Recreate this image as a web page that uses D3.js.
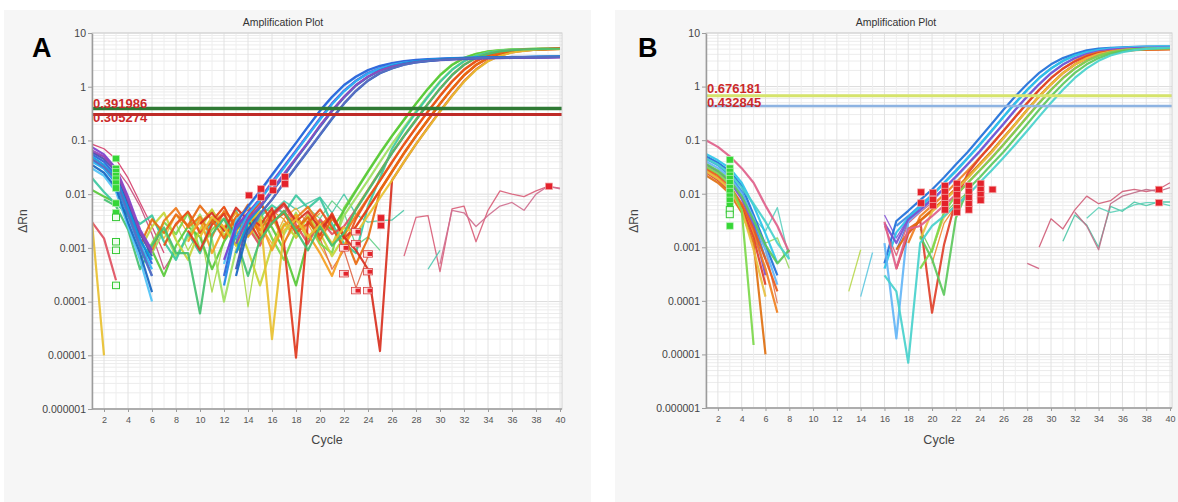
<!DOCTYPE html>
<html><head><meta charset="utf-8">
<script src="https://cdn.jsdelivr.net/npm/d3@7"></script>
<style>
  body { margin: 0; background: #ffffff; }
  svg { display: block; }
  text { font-family: "Liberation Sans", Arial, sans-serif; }
</style></head>
<body>
<svg id="chart" width="1178" height="502"></svg>
<script>
const _ = null;
// a curve that only starts at a later cycle
const at = (start, vals) => Array(start - 1).fill(null).concat(vals);

// ---------- shared axis content ----------
const yTickValues = [1e-6, 1e-5, 1e-4, 1e-3, 1e-2, 0.1, 1, 10];
const yTickLabels = ["0.000001", "0.00001", "0.0001", "0.001", "0.01", "0.1", "1", "10"];
const xTickValues = [2,4,6,8,10,12,14,16,18,20,22,24,26,28,30,32,34,36,38,40];
const cycleDomain = [1, 40];

// ---------- panel A : ΔRn per cycle ----------
// early-amplifying wells (Ct ≈ 20–21.5)
const earlyA = [
  [0.03,0.022,0.011,0.0025,0.0006,0.0001,_,_,_,_,
   _,0.0005,0.0032,0.0056,0.011,0.022,0.045,0.089,0.18,0.35,
   0.63,1.05,1.51,2.0,2.4,2.69,2.95,3.1,3.2,3.3,
   3.37,3.43,3.47,3.5,3.53,3.55,3.57,3.58,3.6,3.6],
  [0.055,0.04,0.022,0.006,0.0015,0.0005,_,_,_,_,
   _,0.0003,0.0028,0.006,0.0115,0.023,0.046,0.09,0.18,0.36,
   0.65,1.08,1.55,2.05,2.45,2.75,3.0,3.15,3.25,3.33,
   3.4,3.45,3.5,3.53,3.56,3.58,3.6,3.62,3.63,3.64],
  [0.045,0.03,0.016,0.004,0.001,0.0003,_,_,_,_,
   _,0.0002,0.0022,0.0043,0.0079,0.016,0.032,0.063,0.126,0.25,
   0.48,0.83,1.29,1.78,2.19,2.57,2.82,3.0,3.15,3.25,
   3.33,3.4,3.45,3.48,3.51,3.54,3.56,3.57,3.59,3.6],
  [0.075,0.055,0.03,0.009,0.0022,0.0009,_,_,_,_,
   _,0.0006,0.0025,0.0045,0.0082,0.017,0.033,0.065,0.13,0.26,
   0.49,0.85,1.3,1.8,2.2,2.55,2.8,2.97,3.1,3.2,
   3.28,3.35,3.4,3.43,3.46,3.49,3.5,3.52,3.53,3.55],
  [0.04,0.03,0.018,0.005,0.0012,0.0004,_,_,_,_,
   _,_,0.0015,0.0042,0.0077,0.0155,0.031,0.062,0.124,0.245,
   0.47,0.82,1.27,1.76,2.17,2.55,2.8,2.98,3.13,3.23,
   3.31,3.38,3.43,3.47,3.5,3.52,3.54,3.56,3.58,3.59],
  [0.06,0.045,0.026,0.007,0.0019,0.0007,_,_,_,_,
   _,_,0.0004,0.0032,0.0056,0.011,0.022,0.045,0.089,0.18,
   0.35,0.63,1.05,1.51,2.0,2.4,2.69,2.95,3.1,3.2,
   3.3,3.37,3.43,3.47,3.5,3.53,3.55,3.57,3.58,3.6],
  [0.05,0.035,0.02,0.0055,0.0014,0.0006,_,_,_,_,
   _,_,0.0008,0.003,0.0058,0.0115,0.023,0.046,0.09,0.185,
   0.36,0.64,1.07,1.53,2.02,2.42,2.72,2.97,3.12,3.22,
   3.32,3.39,3.45,3.49,3.52,3.55,3.57,3.59,3.6,3.62],
  [0.065,0.05,0.028,0.008,0.002,0.0008,_,_,_,_,
   _,_,0.0012,0.0035,0.006,0.012,0.024,0.047,0.092,0.19,
   0.36,0.65,1.08,1.55,2.0,2.38,2.65,2.88,3.02,3.12,
   3.2,3.27,3.32,3.36,3.4,3.43,3.45,3.47,3.49,3.5],
  [0.035,0.025,0.013,0.003,0.0008,0.00015,_,_,_,_,
   _,_,0.0003,0.0022,0.0043,0.0079,0.016,0.032,0.063,0.126,
   0.25,0.48,0.83,1.29,1.78,2.19,2.57,2.82,3.0,3.15,
   3.25,3.33,3.4,3.45,3.48,3.51,3.54,3.56,3.57,3.59],
  [0.045,0.032,0.019,0.0045,0.0011,0.0003,_,_,_,_,
   _,_,_,0.0018,0.0042,0.008,0.0165,0.033,0.065,0.13,
   0.26,0.49,0.85,1.31,1.8,2.2,2.58,2.84,3.02,3.17,
   3.27,3.35,3.42,3.46,3.5,3.53,3.55,3.57,3.58,3.6]
];
const earlyAColors = ["#4fc3f7","#2b5fd9","#1e88e5","#7b3fd0","#29b6f6","#3f51b5","#0b9be0","#9446b8","#1565c0","#5c6bc0"];

// late-amplifying wells (Ct ≈ 27.5–30)
const lateA = [
  [_,_,_,_,0.0006,0.0012,0.003,0.0018,0.0045,0.0009,
   0.0022,0.0035,0.0011,0.0026,0.0048,0.0015,0.0006,0.0021,0.0038,0.0012,
   0.0008,0.0055,0.012,0.027,0.059,0.123,0.245,0.49,0.93,1.66,
   2.57,3.47,4.1,4.57,4.79,4.95,5.02,5.07,5.1,5.13],
  [0.012,0.009,0.007,0.004,0.0018,0.0009,0.0003,0.0011,0.0025,0.0016,
   0.0004,0.0013,0.0029,0.0019,0.0033,0.0024,0.0009,0.0002,0.0014,0.0031,
   0.0022,0.005,0.0115,0.026,0.057,0.12,0.24,0.48,0.91,1.62,
   2.52,3.42,4.05,4.52,4.76,4.92,5.0,5.05,5.08,5.1],
  [_,_,_,_,_,0.0008,0.0021,0.0007,0.0016,0.0042,
   0.0014,0.0001,0.0009,0.0027,0.0012,0.0035,0.0018,0.0045,0.0013,0.0026,
   0.0011,0.004,0.0085,0.018,0.04,0.085,0.174,0.35,0.68,1.26,
   2.09,3.02,3.8,4.37,4.68,4.9,5.0,5.05,5.1,5.12],
  [0.02,0.011,0.0065,0.0045,0.0028,0.004,0.0013,0.0006,0.0019,0.0008,
   0.0034,0.0021,0.0049,0.0017,0.0038,0.0062,0.0044,0.0095,0.0055,0.0085,
   0.0028,0.0012,0.0008,0.006,0.02,0.07,0.16,0.33,0.65,1.22,
   2.05,2.98,3.76,4.33,4.65,4.87,4.98,5.03,5.08,5.1],
  [_,_,_,_,0.0009,0.0025,0.0045,0.0014,0.0006,0.0022,
   0.0052,0.0017,0.0032,0.0009,0.0002,0.0011,0.0028,0.0016,0.004,0.0019,
   0.0007,0.0016,0.0055,0.012,0.027,0.059,0.123,0.245,0.49,0.93,
   1.66,2.57,3.47,4.1,4.57,4.79,4.95,5.02,5.07,5.1],
  [0.003,0.0015,0.00025,_,_,_,_,_,_,_,
   _,_,0.0008,0.0024,0.0011,0.0039,0.0062,0.0027,0.0012,0.0034,
   0.0018,0.0025,0.0052,0.0118,0.026,0.058,0.12,0.24,0.48,0.92,
   1.64,2.55,3.44,4.07,4.53,4.76,4.93,5.0,5.05,5.08],
  [_,_,_,_,_,0.0009,0.0032,0.0055,0.0024,0.0038,
   0.0016,0.0048,0.0029,0.0064,0.0021,0.0045,0.0012,0.0036,0.0058,0.0026,
   0.0041,0.0017,0.004,0.0085,0.018,0.04,0.085,0.174,0.35,0.68,
   1.26,2.09,3.02,3.8,4.37,4.68,4.9,5.0,5.05,5.1],
  [_,_,_,_,_,_,0.0011,0.0028,0.0047,0.0019,
   0.0031,0.0058,0.0022,0.0037,0.0072,0.0031,0.0044,0.0019,0.0029,0.0052,
   0.0024,0.001,0.0035,0.0083,0.0178,0.039,0.084,0.172,0.345,0.67,
   1.24,2.06,2.98,3.77,4.34,4.66,4.88,4.98,5.04,5.08],
  [_,_,_,_,_,_,_,_,0.0013,0.0035,
   0.0008,0.0024,0.0046,0.0016,0.0032,0.0009,0.0026,0.0041,0.0018,0.0008,
   0.0003,0.0011,0.0025,0.0055,0.012,0.027,0.059,0.123,0.245,0.49,
   0.93,1.66,2.57,3.47,4.1,4.57,4.79,4.95,5.02,5.07],
  [_,_,_,_,_,_,_,_,0.0021,0.0009,
   0.0027,0.0043,0.0015,0.0039,0.0026,0.0055,0.0012,0.000009,0.0031,0.0017,
   0.0044,0.0015,0.0025,0.0054,0.0118,0.026,0.058,0.12,0.24,0.48,
   0.91,1.63,2.53,3.43,4.06,4.54,4.77,4.93,5.0,5.05],
  [_,_,_,_,0.0011,0.0034,0.0019,0.0042,0.0026,0.0061,
   0.0033,0.0015,0.0038,0.0052,0.0017,0.0028,0.0049,0.0023,0.0037,0.0014,
   0.0035,0.0018,0.0005,0.0015,0.0115,0.026,0.057,0.12,0.24,0.48,
   0.91,1.62,2.52,3.42,4.05,4.52,4.76,4.92,5.0,5.05],
  [_,_,_,_,_,_,_,_,_,0.0028,
   0.0045,0.0021,0.0056,0.0033,0.0014,0.0042,0.0068,0.0031,0.0048,0.0022,
   0.0039,0.0016,0.0009,0.0004,0.000012,0.018,0.04,0.085,0.174,0.35,
   0.68,1.26,2.09,3.02,3.8,4.37,4.68,4.9,5.0,5.05],
  [0.003,0.00001,_,_,_,_,_,_,_,0.0016,
   0.0038,0.0024,0.0011,0.003,0.0047,0.00002,0.0021,0.0034,0.0016,0.0027,
   0.0012,0.0024,0.0018,0.004,0.0085,0.018,0.04,0.085,0.172,0.345,
   0.67,1.24,2.06,2.98,3.77,4.34,4.66,4.88,4.98,5.03],
  [_,0.008,0.006,0.0022,0.0004,0.0011,0.0024,0.0008,0.0008,0.00006,
   0.0018,0.0035,0.0015,0.0003,0.0014,0.0029,0.0048,0.0021,0.0009,0.0025,
   0.0011,0.0019,0.0052,0.0115,0.026,0.058,0.12,0.24,0.48,0.92,
   1.64,2.55,3.45,4.08,4.55,4.78,4.94,5.01,5.06,5.09]
];
const lateAColors = ["#7ad84a","#58c93a","#9ee060","#3cc8a0","#c5d63a","#e05060","#f07a1a",
                     "#e8501a","#f5a020","#e03a1e","#e86a10","#d83020","#e8c030","#44c070"];

// wells without amplification (noise only)
const flatA = [
  at(12, [0.002,0.0035,0.0022,0.006,0.0045,0.0075,0.0052,0.0068,0.0088,0.0045,0.01,0.0042,0.003,0.0032,0.0033,0.005]),
  at(7,  [0.0012,0.0028,0.0009,0.0022,0.00015,0.0014,0.0031,0.00008,0.0019,0.0036,0.0013,0.0026]),
  at(6,  [0.0035,0.0015,0.0041,0.0019,0.0008,0.0029,0.0047,0.0018,0.0062,0.0027,0.0012,0.0035,0.0055,0.0028,0.0011,0.00045]),
  at(17, [0.0032,0.0021,0.0045,0.0015,0.0004,0.0009,0.00018,0.0007]),
  at(19, [0.0055,0.0035,0.0075,0.0045,0.0011,0.0016,0.0009]),
  [0.085,0.07,0.045,0.02,0.007,0.0025,0.0008],
  [0.06,0.05,0.03,0.015,0.006,0.0018,0.0004,0.0009],
  at(27, [0.0007,0.0037,0.004,0.00036,0.0053,0.006,0.0013,0.005,0.0115,0.01,0.009,0.0115,0.014,0.013]),
  at(30, [0.0005,0.005,0.0045,0.0025,0.004,0.006,0.007,0.005,0.01,0.014,0.0125]),
  at(29, [0.0004,0.0009]),
  at(8,  [0.0026,0.0048,0.0021,0.0033,0.0058,0.0025,0.0041,0.0066,0.0029,0.0047,0.0019,0.0038,0.0027]),
  at(9,  [0.0017,0.0029,0.0052,0.0024,0.0016,0.0037,0.0021,0.0049,0.0034,0.0015,0.0028,0.0044])
];
const flatAColors = ["#4cc8a8","#a8d84a","#f0b030","#e06a4a","#66d08a","#d6406e","#c85080","#d9607a",
                     "#cf6f8f","#50c8b0","#ec7a22","#e2a028"];

const thresholdsA = [0.391986, 0.305274];
const thresholdLabelsA = ["0.391986", "0.305274"];

// baseline / Ct markers: [cycle, ΔRn]
const redMarksA = [[14,0.0095],[15,0.0125],[15,0.0088],[16,0.0165],[16,0.0118],[17,0.021],[17,0.0155],
                   [25,0.0036],[25,0.0026],[39,0.014]];
const openRedMarksA = [[22,0.001],[23,0.002],[23,0.0012],[24,0.00077],[22,0.00033],[24,0.00036],[23,0.00016],[24,0.00016]];
const greenMarksA = [[3,0.046],[3,0.03],[3,0.026],[3,0.022],[3,0.019],[3,0.016],[3,0.013],[3,0.0068],[3,0.0045]];
const openGreenMarksA = [[3,0.0037],[3,0.0013],[3,0.0009],[3,0.0002]];

// ---------- panel B : ΔRn per cycle ----------
const ampB = [
  [0.05,0.038,0.026,0.014,0.004,0.0011,0.0003,_,_,_,
   _,_,_,_,_,0.0005,0.0031,0.0048,0.0076,0.012,
   0.02,0.035,0.06,0.11,0.2,0.37,0.66,1.12,1.8,2.6,
   3.4,4.1,4.75,5.1,5.3,5.42,5.5,5.55,5.58,5.6],
  [0.045,0.034,0.022,0.011,0.003,0.0006,_,_,_,_,
   _,_,_,_,_,_,0.0025,0.0038,0.006,0.0095,
   0.016,0.027,0.047,0.083,0.15,0.275,0.5,0.87,1.45,2.19,
   3.02,3.8,4.37,4.79,5.05,5.2,5.33,5.42,5.48,5.52],
  [0.055,0.042,0.03,0.016,0.006,0.0018,0.0005,_,_,_,
   _,_,_,_,_,0.0004,0.0019,0.0035,0.0058,0.0092,
   0.0155,0.026,0.046,0.081,0.147,0.27,0.49,0.86,1.43,2.17,
   3.0,3.8,4.4,4.85,5.15,5.35,5.48,5.56,5.62,5.65],
  [0.04,0.03,0.02,0.01,0.0035,0.0009,0.0002,_,_,_,
   _,_,_,_,_,0.0012,0.00002,0.0031,0.0048,0.0076,
   0.012,0.02,0.035,0.06,0.11,0.2,0.37,0.66,1.12,1.8,
   2.6,3.4,4.1,4.6,4.95,5.18,5.32,5.42,5.48,5.52],
  [0.035,0.026,0.017,0.008,0.0025,0.0003,_,_,_,_,
   _,_,_,_,_,0.0028,0.0012,0.0033,0.005,0.0078,
   0.0125,0.021,0.036,0.062,0.112,0.2,0.37,0.65,1.1,1.77,
   2.57,3.37,4.05,4.55,4.88,5.08,5.2,5.28,5.33,5.36],
  [0.028,0.02,0.012,0.006,0.0018,0.0004,0.00006,_,_,_,
   _,_,_,_,_,_,_,0.0012,0.0038,0.006,
   0.0095,0.016,0.027,0.047,0.083,0.15,0.275,0.5,0.87,1.45,
   2.19,3.02,3.8,4.37,4.6,4.85,4.95,5.0,5.02,5.05],
  [0.025,0.018,0.011,0.0055,0.0015,0.0002,_,_,_,_,
   _,_,_,_,_,_,0.0004,0.0018,0.0032,0.00006,
   0.0011,0.0075,0.024,0.046,0.082,0.148,0.27,0.49,0.86,1.43,
   2.15,2.95,3.7,4.2,4.55,4.75,4.85,4.92,4.96,5.0],
  [0.03,0.022,0.014,0.0065,0.0022,0.0006,0.00015,_,_,_,
   _,_,_,_,_,_,_,0.0022,0.0031,0.0048,
   0.0076,0.012,0.02,0.035,0.06,0.11,0.2,0.37,0.66,1.12,
   1.8,2.6,3.4,4.05,4.45,4.7,4.85,4.93,4.98,5.02],
  [0.022,0.016,0.01,0.0045,0.0012,0.00001,_,_,_,_,
   _,_,_,_,_,_,0.0009,0.0019,0.0032,0.005,
   0.0078,0.0125,0.021,0.036,0.062,0.112,0.2,0.37,0.65,1.1,
   1.77,2.57,3.35,4.0,4.4,4.65,4.8,4.88,4.93,4.97],
  [0.026,0.019,0.012,0.005,0.0009,0.00012,_,_,_,_,
   _,_,_,_,_,_,_,_,0.0014,0.0046,
   0.0074,0.0118,0.0196,0.034,0.059,0.108,0.198,0.365,0.65,1.1,
   1.78,2.58,3.38,4.05,4.5,4.78,4.95,5.05,5.1,5.14],
  [0.1,0.075,0.05,0.03,0.016,0.006,0.0025,0.0008,_,_,
   _,_,_,_,_,0.003,0.0004,0.0022,0.0025,0.0038,
   0.006,0.0095,0.016,0.027,0.047,0.083,0.15,0.275,0.5,0.87,
   1.45,2.19,3.02,3.8,4.37,4.75,4.95,5.08,5.15,5.2],
  [0.032,0.024,0.015,0.005,0.000015,_,_,_,_,_,
   _,_,_,_,_,_,_,_,0.0004,0.0009,
   0.0045,0.0093,0.0158,0.027,0.046,0.082,0.148,0.27,0.49,0.86,
   1.43,2.17,3.0,3.78,4.35,4.75,4.98,5.1,5.18,5.22],
  [0.036,0.027,0.018,0.009,0.0032,0.0011,0.0005,0.0009,_,_,
   _,_,_,_,_,_,_,_,0.0016,0.0006,
   0.00013,0.0035,0.012,0.02,0.035,0.06,0.11,0.2,0.37,0.66,
   1.12,1.8,2.6,3.4,4.1,4.6,4.9,5.07,5.16,5.22],
  [0.045,0.035,0.024,0.013,0.0065,0.003,0.0012,0.0006,_,_,
   _,_,_,_,_,0.0003,0.00015,0.000007,0.0012,0.0025,
   0.0038,0.006,0.0095,0.016,0.027,0.047,0.083,0.15,0.275,0.5,
   0.87,1.45,2.19,3.02,3.8,4.37,4.79,5.05,5.2,5.3]
];
const ampBColors = ["#1e6fd9","#3a8ee6","#2bc4e8","#64b5f6","#7a4fd0","#f08020","#e0402a",
                    "#e85a1a","#e07010","#e8c040","#e0608a","#7cd84a","#5cc85c","#48d1cc"];

const flatB = [
  at(13, [0.00015,0.0009]),
  at(14, [0.00012,0.0008]),
  at(28, [0.0005,0.0004]),
  at(29, [0.001,0.0034,0.0022,0.005,0.009,0.0065,0.0074,0.011,0.012,0.011,0.012,0.016]),
  at(31, [0.0013,0.004,0.0026,0.001,0.0058,0.0047,0.007,0.006,0.007,0.007]),
  at(32, [0.0045,0.0025,0.0009,0.0065,0.009,0.0105,0.012,0.011,0.013]),
  at(33, [0.0035,0.0055,0.0045,0.005,0.0062,0.0068,0.0068,0.006]),
  at(5,  [0.0035,0.002,0.0055,0.0006]),
  at(5,  [0.002,0.0012,0.0015,0.0004]),
  at(5,  [0.0028,0.0009,0.00009]),
  at(16, [0.004,0.0015,0.0035,0.006,0.0085]),
  at(17, [0.0009,0.003,0.0055,0.008]),
  at(16, [0.0025,0.0007,0.0028,0.0045,0.0068]),
  at(19, [0.0022,0.0008,0.0042,0.007,0.0105]),
  at(20, [0.0009,0.0035,0.0065,0.0098]),
  at(20, [0.0005,0.0028,0.006,0.0092])
];
const flatBColors = ["#b8d850","#60c8e0","#d06080","#d0607a","#50c8a8","#c0708a","#60d0b8","#5fd0c0",
                     "#9ad860","#e07a5a","#8a5ad8","#3f7fe0","#e0607a","#6cd060","#e8c84a","#f08a30"];

const thresholdsB = [0.676181, 0.432845];
const thresholdLabelsB = ["0.676181", "0.432845"];

const redMarksB = [[19,0.0107],[19,0.0067],[20,0.0105],[20,0.0078],[20,0.006],
                   [21,0.014],[21,0.011],[21,0.0085],[21,0.0065],[21,0.005],
                   [22,0.0155],[22,0.012],[22,0.0095],[22,0.0072],[22,0.0055],[22,0.0045],
                   [23,0.014],[23,0.011],[23,0.0085],[23,0.0065],[23,0.005],
                   [24,0.0155],[24,0.012],[24,0.0095],[24,0.0076],[25,0.012],
                   [39,0.012],[39,0.0068]];
const greenMarksB = [[3,0.043],[3,0.03],[3,0.026],[3,0.022],[3,0.019],[3,0.016],[3,0.013],
                     [3,0.011],[3,0.009],[3,0.0075],[3,0.006],[3,0.0025]];
const openGreenMarksB = [[3,0.005],[3,0.0041]];

// ---------- drawing ----------
const svg = d3.select("#chart");
const serif = "'Liberation Serif', 'Times New Roman', serif";

function drawPanel(p) {
  const g = svg.append("g");
  g.append("rect").attr("x", p.bg[0]).attr("y", p.bg[1]).attr("width", p.bg[2]).attr("height", p.bg[3])
    .attr("fill", "#f6f6f6");

  const x = d3.scaleLinear().domain(cycleDomain).range([p.left, p.xEnd]);
  const y = d3.scaleLog().domain([1e-6, 10]).range([p.bottom, p.top]);

  g.append("rect").attr("x", p.left).attr("y", p.top)
    .attr("width", p.right - p.left).attr("height", p.bottom - p.top).attr("fill", "#ffffff");

  const clipId = "clip" + p.letter;
  g.append("clipPath").attr("id", clipId).append("rect")
    .attr("x", p.left).attr("y", p.top).attr("width", p.right - p.left).attr("height", p.bottom - p.top);

  // grid
  const grid = g.append("g");
  const minor = [];
  for (let k = -6; k < 1; k++) for (let m = 2; m <= 9; m++) minor.push(m * Math.pow(10, k));
  grid.selectAll(".hm").data(minor).join("line")
    .attr("x1", p.left).attr("x2", p.right).attr("y1", d => y(d)).attr("y2", d => y(d))
    .attr("stroke", "#ececec").attr("stroke-width", 1);
  grid.selectAll(".hM").data(yTickValues).join("line")
    .attr("x1", p.left).attr("x2", p.right).attr("y1", d => y(d)).attr("y2", d => y(d))
    .attr("stroke", "#dcdcdc").attr("stroke-width", 1);
  grid.selectAll(".v").data(d3.range(2, 41)).join("line")
    .attr("x1", d => x(d)).attr("x2", d => x(d)).attr("y1", p.top).attr("y2", p.bottom)
    .attr("stroke", d => d % 2 === 0 ? "#e2e2e2" : "#eeeeee").attr("stroke-width", 1);

  const line = d3.line().defined(v => v != null).x((v, i) => x(i + 1)).y(v => y(v));
  const plot = g.append("g").attr("clip-path", `url(#${clipId})`);

  const drawSet = (rows, colors, width) => {
    plot.append("g").selectAll("path").data(rows).join("path")
      .attr("d", d => line(d)).attr("fill", "none")
      .attr("stroke", (d, i) => colors[i]).attr("stroke-width", width)
      .attr("stroke-linejoin", "round").attr("opacity", 0.92);
  };
  p.sets.forEach(s => drawSet(s.rows, s.colors, s.width));

  // threshold lines with their labels
  const label = (t) => plot.append("text").attr("x", p.left + 1).attr("y", y(t.value) + t.dy)
      .attr("font-family", serif).attr("font-weight", "bold").attr("font-size", t.size)
      .attr("fill", "#cc2a2a").text(t.label);
  p.hiddenLabels.forEach(label);
  p.thresholds.forEach(t => {
    plot.append("line").attr("x1", p.left).attr("x2", p.right)
      .attr("y1", y(t.value)).attr("y2", y(t.value))
      .attr("stroke", t.color).attr("stroke-width", t.width);
  });
  p.labels.forEach(label);

  // markers
  const mw = 7, mh = 6.5;
  const marks = plot.append("g");
  marks.selectAll(".rm").data(p.redMarks).join("rect")
    .attr("x", d => x(d[0]) - mw / 2 + 1).attr("y", d => y(d[1]) - mh / 2)
    .attr("width", mw).attr("height", mh).attr("fill", "#e4222b").attr("stroke", "#f3a3a3").attr("stroke-width", 0.7);
  marks.selectAll(".orm").data(p.openRedMarks || []).join("rect")
    .attr("x", d => x(d[0]) - mw / 2 - 1).attr("y", d => y(d[1]) - mh / 2)
    .attr("width", mw + 2).attr("height", mh).attr("fill", "#fbe3e3").attr("stroke", "#d84040").attr("stroke-width", 0.8);
  marks.selectAll(".ormi").data(p.openRedMarks || []).join("rect")
    .attr("x", d => x(d[0]) - 0.5).attr("y", d => y(d[1]) - 2)
    .attr("width", 4.5).attr("height", 4).attr("fill", "#e4222b");
  marks.selectAll(".gm").data(p.greenMarks).join("rect")
    .attr("x", d => x(d[0]) - mw / 2).attr("y", d => y(d[1]) - mh / 2)
    .attr("width", mw).attr("height", mh).attr("fill", "#36d636").attr("stroke", "#b6f0b6").attr("stroke-width", 0.7);
  marks.selectAll(".ogm").data(p.openGreenMarks).join("rect")
    .attr("x", d => x(d[0]) - mw / 2).attr("y", d => y(d[1]) - mh / 2)
    .attr("width", mw).attr("height", mh).attr("fill", "#effcef").attr("stroke", "#36c836").attr("stroke-width", 1);

  // frame and axes
  g.append("rect").attr("x", p.left).attr("y", p.top)
    .attr("width", p.right - p.left).attr("height", p.bottom - p.top)
    .attr("fill", "none").attr("stroke", "#d2d2d2");

  const yAxis = g.append("g").attr("transform", `translate(${p.left},0)`)
    .call(d3.axisLeft(y).tickValues(yTickValues).tickFormat((d, i) => yTickLabels[i]).tickSize(4).tickSizeOuter(0));
  yAxis.select(".domain").attr("stroke", "#9c9c9c").attr("stroke-width", 1.5);
  yAxis.selectAll(".tick line").attr("stroke", "#9c9c9c");
  yAxis.selectAll(".tick text").attr("font-size", 10.5).attr("fill", "#444").attr("x", -6)
    .attr("font-family", "'Liberation Sans', Arial, sans-serif");

  const xAxis = g.append("g").attr("transform", `translate(0,${p.bottom})`)
    .call(d3.axisBottom(x).tickValues(xTickValues).tickSize(3).tickSizeOuter(0));
  xAxis.select(".domain").remove();
  xAxis.append("line").attr("x1", p.left).attr("x2", p.right).attr("stroke", "#9c9c9c").attr("stroke-width", 1.5);
  xAxis.selectAll(".tick line").attr("stroke", "#9c9c9c");
  xAxis.selectAll(".tick text").attr("font-size", 9).attr("fill", "#555").attr("dy", "0.9em")
    .attr("font-family", "'Liberation Sans Narrow', 'Liberation Sans', Arial, sans-serif");

  // texts
  g.append("text").attr("x", p.titleX).attr("y", 26).attr("text-anchor", "middle")
    .attr("font-size", 10.5).attr("fill", "#333").text("Amplification Plot");
  g.append("text").attr("x", p.letterX).attr("y", 57).attr("font-size", 27).attr("font-weight", "bold")
    .attr("fill", "#000").text(p.letter);
  g.append("text").attr("transform", `translate(${p.yLabelX},221) rotate(-90)`).attr("text-anchor", "middle")
    .attr("font-size", 12).attr("fill", "#444").text("ΔRn");
  g.append("text").attr("x", (p.left + p.right) / 2).attr("y", 444).attr("text-anchor", "middle")
    .attr("font-size", 12.5).attr("fill", "#444").text("Cycle");
}

drawPanel({
  letter: "A", letterX: 32, titleX: 283, yLabelX: 27,
  bg: [4, 10, 587, 492], left: 92, xEnd: 560, right: 562, top: 33, bottom: 409,
  sets: [
    { rows: flatA, colors: flatAColors, width: 1.3 },
    { rows: lateA, colors: lateAColors, width: 2.2 },
    { rows: earlyA, colors: earlyAColors, width: 2.2 }
  ],
  hiddenLabels: [{ value: thresholdsA[1], label: thresholdLabelsA[1], dy: 8, size: 13 }],
  thresholds: [
    { value: thresholdsA[0], color: "#2f7a34", width: 3.5 },
    { value: thresholdsA[1], color: "#bf2b28", width: 3 }
  ],
  labels: [{ value: thresholdsA[0], label: thresholdLabelsA[0], dy: -0.8, size: 13 }],
  redMarks: redMarksA, openRedMarks: openRedMarksA,
  greenMarks: greenMarksA, openGreenMarks: openGreenMarksA
});

drawPanel({
  letter: "B", letterX: 638, titleX: 896, yLabelX: 638,
  bg: [615, 10, 563, 492], left: 706, xEnd: 1170, right: 1172, top: 33, bottom: 408,
  sets: [
    { rows: flatB, colors: flatBColors, width: 1.3 },
    { rows: ampB, colors: ampBColors, width: 2.2 }
  ],
  hiddenLabels: [],
  thresholds: [
    { value: thresholdsB[0], color: "#d6e46c", width: 3 },
    { value: thresholdsB[1], color: "#8db3e2", width: 2.5 }
  ],
  labels: [
    { value: thresholdsB[0], label: thresholdLabelsB[0], dy: -2.8, size: 13 },
    { value: thresholdsB[1], label: thresholdLabelsB[1], dy: 0.8, size: 13 }
  ],
  redMarks: redMarksB, openRedMarks: [],
  greenMarks: greenMarksB, openGreenMarks: openGreenMarksB
});
</script>
</body></html>
